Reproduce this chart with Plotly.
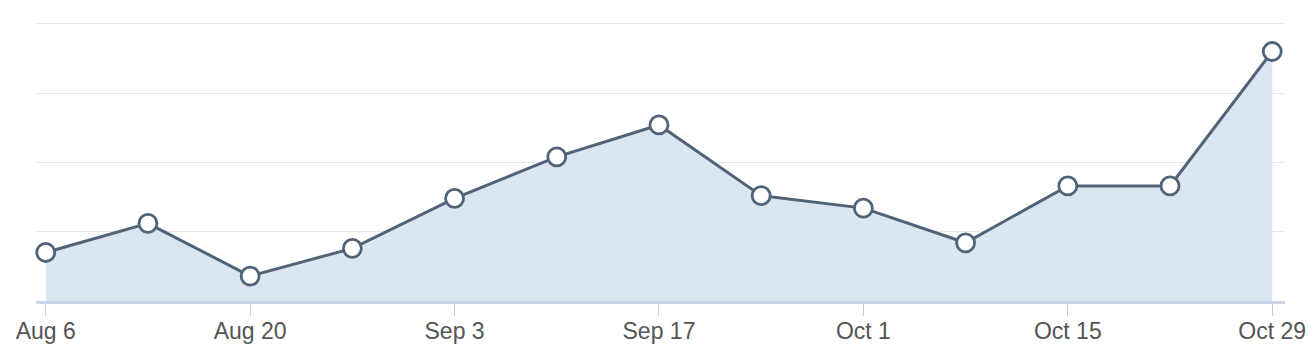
import plotly.graph_objects as go
import pandas as pd

dates = ["2018-08-06", "2018-08-13", "2018-08-20", "2018-08-27", "2018-09-03",
         "2018-09-10", "2018-09-17", "2018-09-24", "2018-10-01", "2018-10-08",
         "2018-10-15", "2018-10-22", "2018-10-29"]
values = [35, 56, 18, 38, 74, 104, 127, 76, 67, 42, 83, 83, 180]
tick_dates = ["2018-08-06", "2018-08-20", "2018-09-03", "2018-09-17",
              "2018-10-01", "2018-10-15", "2018-10-29"]
tick_labels = ["Aug 6", "Aug 20", "Sep 3", "Sep 17", "Oct 1", "Oct 15", "Oct 29"]
grid_vals = [0, 50, 100, 150, 200]

fig = go.Figure()
fig.add_trace(go.Scatter(
    x=dates, y=values, mode="lines+markers",
    line=dict(color="#516378", width=3),
    fill="tozeroy", fillcolor="#dce6f2",
    marker=dict(size=18, color="white", line=dict(color="#516378", width=2.8)),
    hoverinfo="skip", cliponaxis=False,
))

x0 = pd.Timestamp(dates[0]) - pd.Timedelta(hours=16)
x1 = pd.Timestamp(dates[-1]) + pd.Timedelta(hours=21)

fig.update_layout(
    width=1306, height=353,
    margin=dict(l=28, r=29, t=13, b=60),
    paper_bgcolor="white", plot_bgcolor="white",
    showlegend=False,
    font=dict(family="Liberation Sans, Arial, sans-serif", size=23, color="#555555"),
    xaxis=dict(
        range=[x0, x1], automargin=False,
        tickvals=tick_dates, ticktext=tick_labels,
        showgrid=False, zeroline=False,
        showline=True, linecolor="#ccd6eb", linewidth=3,
        ticks="outside", ticklen=12, tickcolor="#cccccc", tickwidth=1,
        ticklabelstandoff=-5,
        tickfont=dict(size=23, color="#555555"),
    ),
    yaxis=dict(
        range=[0, 202], automargin=False,
        tickvals=grid_vals,
        showticklabels=False,
        showgrid=True, gridcolor="#e6e6e6", gridwidth=1,
        zeroline=False, showline=False,
    ),
)

fig.write_html("out.html")
